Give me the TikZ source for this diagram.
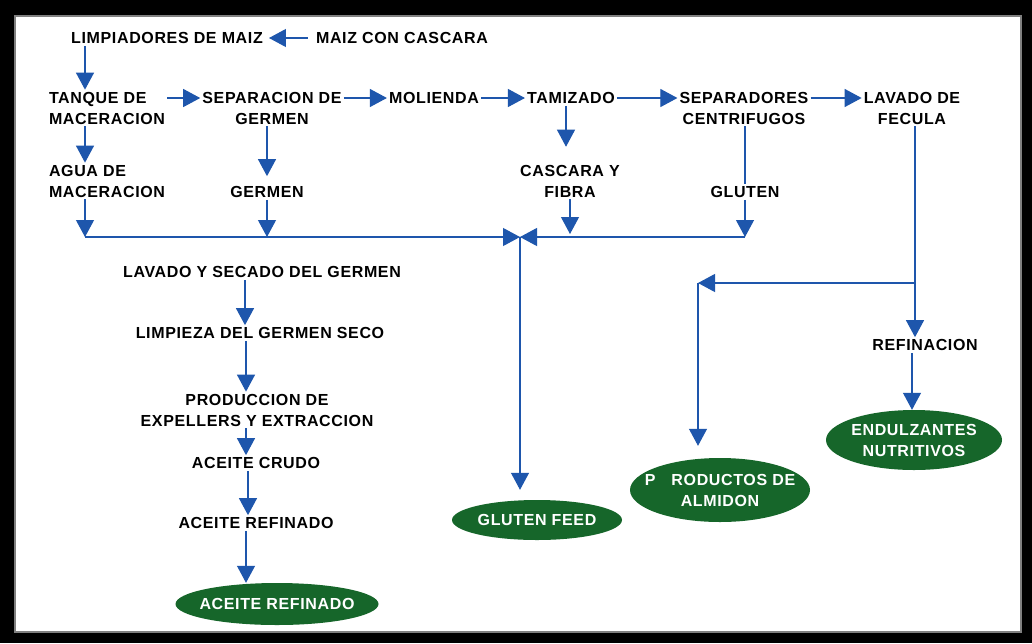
\documentclass[tikz,border=0pt]{standalone}
\usepackage{fontspec}
\setmainfont{Liberation Sans}[LetterSpace=4]
\usetikzlibrary{arrows.meta,shapes.geometric}
\definecolor{flowblue}{RGB}{30,86,172}
\definecolor{prodgreen}{RGB}{22,102,42}
\begin{document}
\begin{tikzpicture}[x=1pt,y=-1pt,
    lbl/.style={font=\fontsize{16}{21}\selectfont\bfseries, inner sep=2pt},
    prod/.style={ellipse, fill=prodgreen, text=white, inner xsep=-12pt, inner ysep=-4pt,
      font=\fontsize{16}{21}\selectfont\bfseries, align=center},
    arr/.style={flowblue, line width=1.1pt, -{Triangle[width=18pt,length=17pt]}}]
    % frame
    \fill[black] (0,0) rectangle (1032,643);
    \fill[white] (15,16) rectangle (1021,632);
    \draw[gray, line width=1.5pt] (15,16) rectangle (1021,632);
    \useasboundingbox (0,0) rectangle (1032,643);
    % first rows
    \node[lbl] (limp) at (167,38) {LIMPIADORES DE MAIZ};
    \node[lbl] (maiz) at (402,38) {MAIZ CON CASCARA};
    \node[lbl, align=left] (tanque) at (107,108) {TANQUE DE\\MACERACION};
    \node[lbl, align=center] (sepg) at (272,108) {SEPARACION DE\\GERMEN};
    \node[lbl] (mol) at (434,98) {MOLIENDA};
    \node[lbl] (tam) at (571,98) {TAMIZADO};
    \node[lbl, align=center] (sepc) at (744,108) {SEPARADORES\\CENTRIFUGOS};
    \node[lbl, align=center] (lav) at (912,108) {LAVADO DE\\FECULA};
    \node[lbl, align=left] (agua) at (107,181) {AGUA DE\\MACERACION};
    \node[lbl] (germen) at (267,192) {GERMEN};
    \node[lbl, align=center] (casc) at (570,181) {CASCARA Y\\FIBRA};
    \node[lbl] (glut) at (745,192) {GLUTEN};
    % germ branch
    \node[lbl] (lsg) at (262,272) {LAVADO Y SECADO DEL GERMEN};
    \node[lbl] (limpz) at (260,333) {LIMPIEZA DEL GERMEN SECO};
    \node[lbl, align=center] (prodx) at (257,410) {PRODUCCION DE\\EXPELLERS Y EXTRACCION};
    \node[lbl] (crudo) at (256,463) {ACEITE CRUDO};
    \node[lbl] (refin) at (256,523) {ACEITE REFINADO};
    \node[lbl] (refinac) at (925,345) {REFINACION};
    % products
    \node[prod, minimum width=203pt, minimum height=42pt] (eaceite) at (277,604) {ACEITE REFINADO};
    \node[prod, minimum width=170pt, minimum height=40pt] (efeed) at (537,520) {GLUTEN FEED};
    \node[prod, minimum width=180pt, minimum height=64pt] (ealm) at (720,490) {P\hspace{16pt}RODUCTOS DE\\ALMIDON};
    \node[prod, minimum width=176pt, minimum height=60pt] (eendul) at (914,440) {ENDULZANTES\\NUTRITIVOS};
    % junctions
    \coordinate (jl) at (85,237);
    \coordinate (jg) at (267,237);
    \coordinate (jc) at (570,237);
    \coordinate (jr) at (745,237);
    \coordinate (j) at (520,237);
    \coordinate (k) at (915,283);
    \coordinate (kc) at (698,283);
    % main line
    \draw[arr, shorten <=6pt, shorten >=4pt] (maiz.west) -- (limp.east);
    \draw[arr] (limp.south -| jl) -- (tanque.north -| jl);
    \draw[arr] (tanque.east |- mol) -- (sepg.west |- mol);
    \draw[arr] (sepg.east |- mol) -- (mol.west);
    \draw[arr] (mol.east) -- (tam.west);
    \draw[arr] (tam.east) -- (sepc.west |- tam);
    \draw[arr] (sepc.east |- tam) -- (lav.west |- tam);
    % side streams
    \draw[arr] (tanque.south -| jl) -- (agua.north -| jl);
    \draw[arr, shorten >=8pt] (sepg.south -| jg) -- (germen.north);
    \draw[arr, shorten >=16pt] (tam.south -| 566,0) -- (casc.north -| 566,0);
    \draw[flowblue, line width=1.1pt] (sepc.south -| jr) -- (glut.north);
    \draw[arr] (agua.south -| jl) -- (jl);
    \draw[arr] (germen.south) -- (jg);
    \draw[arr, shorten >=3pt] (casc.south) -- (jc);
    \draw[arr] (glut.south) -- (jr);
    \draw[arr] (jl) -- (j);
    \draw[arr] (jr) -- (j);
    \draw[arr, shorten >=10pt] (j) -- (j |- efeed.north);
    % germ branch
    \draw[arr] (lsg.south -| 245,0) -- (limpz.north -| 245,0);
    \draw[arr] (limpz.south -| 246,0) -- (prodx.north -| 246,0);
    \draw[arr] (prodx.south -| 246,0) -- (crudo.north -| 246,0);
    \draw[arr] (crudo.south -| 248,0) -- (refin.north -| 248,0);
    \draw[arr] (refin.south -| 246,0) -- (eaceite.north -| 246,0);
    % starch branch
    \draw[flowblue, line width=1.1pt] (lav.south -| k) -- (k);
    \draw[arr] (k) -- (refinac.north -| k);
    \draw[arr] (k) -- (kc);
    \draw[arr, shorten >=12pt] (kc) -- (kc |- ealm.north);
    \draw[arr] (refinac.south -| 912,0) -- (eendul.north -| 912,0);
\end{tikzpicture}
\end{document}
